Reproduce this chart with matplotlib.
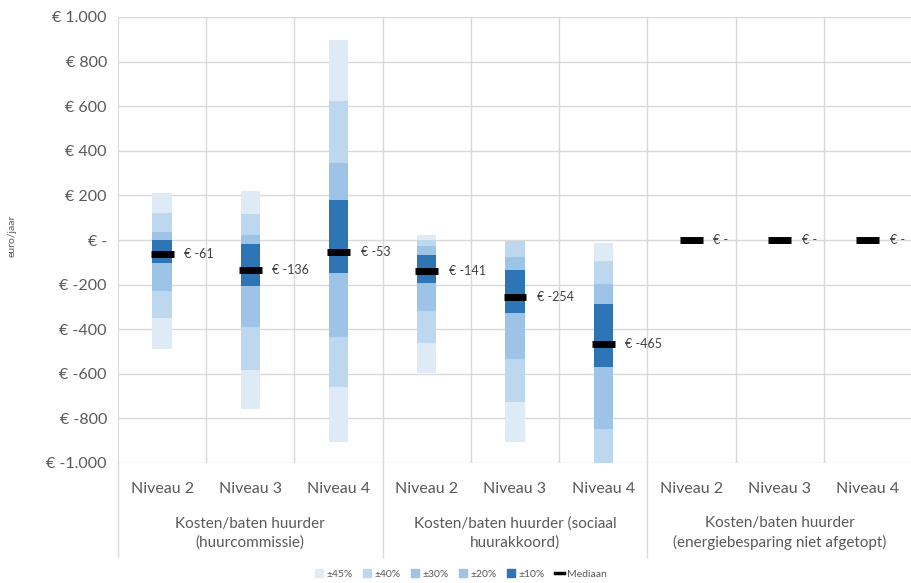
import numpy as np
import matplotlib.pyplot as plt
from matplotlib.patches import Patch
from matplotlib.lines import Line2D
from matplotlib.ticker import FuncFormatter
import matplotlib.transforms as mtransforms

plt.rcParams['font.family'] = ['Lato', 'DejaVu Sans']

# Categorieën
niveaus = ['Niveau 2', 'Niveau 3', 'Niveau 4'] * 3
groepen = ['Kosten/baten huurder\n(huurcommissie)',
           'Kosten/baten huurder (sociaal\nhuurakkoord)',
           'Kosten/baten huurder\n(energiebesparing niet afgetopt)']

# Bandbreedtes (onder- en bovengrens) per niveau, euro/jaar
p45_lo = [-487, -756, -904, -598, -904, -1000, 0, 0, 0]
p45_hi = [212, 221, 897, 22, -5, -15, 0, 0, 0]
p40_lo = [-348, -583, -661, -460, -728, -1000, 0, 0, 0]
p40_hi = [122, 117, 625, 0, -5, -94, 0, 0, 0]
p30_lo = [-227, -389, -433, -317, -535, -849, 0, 0, 0]
p30_hi = [37, 22, 344, -27, -75, -197, 0, 0, 0]
p20_lo = [-227, -389, -433, -317, -535, -849, 0, 0, 0]
p20_hi = [37, 22, 344, -27, -75, -197, 0, 0, 0]
p10_lo = [-102, -206, -147, -194, -329, -568, 0, 0, 0]
p10_hi = [0, -18, 179, -67, -135, -288, 0, 0, 0]
mediaan = [-61, -136, -53, -141, -254, -465, 0, 0, 0]

banden = [('±45%', p45_lo, p45_hi, '#DEEBF7'),
          ('±40%', p40_lo, p40_hi, '#BDD7EE'),
          ('±30%', p30_lo, p30_hi, '#9DC3E6'),
          ('±20%', p20_lo, p20_hi, '#9DC3E6'),
          ('±10%', p10_lo, p10_hi, '#2E75B6')]

fig = plt.figure(figsize=(9.12, 5.83), dpi=100)
ax = fig.add_axes([118 / 912, 1 - 463 / 583, 1 - 118 / 912, 446 / 583])

x = np.arange(len(niveaus))
for naam, lo, hi, kleur in banden:
    lo = np.array(lo)
    hi = np.array(hi)
    ax.bar(x, hi - lo, bottom=lo, width=0.22, color=kleur, linewidth=0, zorder=2)

ax.hlines(mediaan, x - 0.13, x + 0.13, colors='black', linewidth=5, zorder=3)


def euro(v):
    if v == 0:
        return '€ -'
    return '€ ' + f'{v:,.0f}'.replace(',', '.')


for xi, m in zip(x, mediaan):
    ax.text(xi + 0.25, m, euro(m), ha='left', va='center', fontsize=9, color='#404040')

# Assen opmaken
ax.set_xlim(-0.5, 8.5)
ax.set_ylim(-1000, 1000)
ax.set_yticks(np.arange(-1000, 1001, 200))
ax.yaxis.set_major_formatter(FuncFormatter(lambda v, p: euro(v)))
ax.tick_params(axis='y', length=0, labelsize=11.5, labelcolor='#595959', pad=8)
ax.set_xticks(x)
ax.set_xticklabels(niveaus)
ax.tick_params(axis='x', length=0, labelsize=11.5, labelcolor='#595959', pad=14)
ax.grid(axis='y', color='#D9D9D9', linewidth=1, zorder=0)
for b in np.arange(0.5, 8, 1):
    ax.axvline(b, color='#D9D9D9', linewidth=1, zorder=0)
for s in ['top', 'right', 'bottom']:
    ax.spines[s].set_visible(False)
ax.spines['left'].set_color('#D9D9D9')

trans = mtransforms.blended_transform_factory(ax.transData, ax.transAxes)
for g in [-0.5, 2.5, 5.5, 8.5]:
    ax.add_line(Line2D([g, g], [0, -0.21], transform=trans, color='#D9D9D9',
                       linewidth=1, clip_on=False))
for i, naam in enumerate(groepen):
    ax.text(3 * i + 1, -0.157, naam, transform=trans, ha='center', va='center',
            fontsize=11, color='#595959', linespacing=1.4)

fig.text(0.013, 1 - 236 / 583, 'euro/jaar', rotation=90, ha='center', va='center',
         fontsize=7.5, color='#595959')

handles = [Patch(color=k, label=n) for n, lo, hi, k in banden]
handles.append(Line2D([], [], color='black', linewidth=2.5, label='Mediaan'))
fig.legend(handles=handles, loc='center', bbox_to_anchor=(0.505, 1 - 574 / 583), ncol=6,
           frameon=False, fontsize=7.5, labelcolor='#595959', handlelength=0.8,
           handleheight=0.8, handletextpad=0.3, columnspacing=1.0)

plt.savefig('out.png', dpi=100)
